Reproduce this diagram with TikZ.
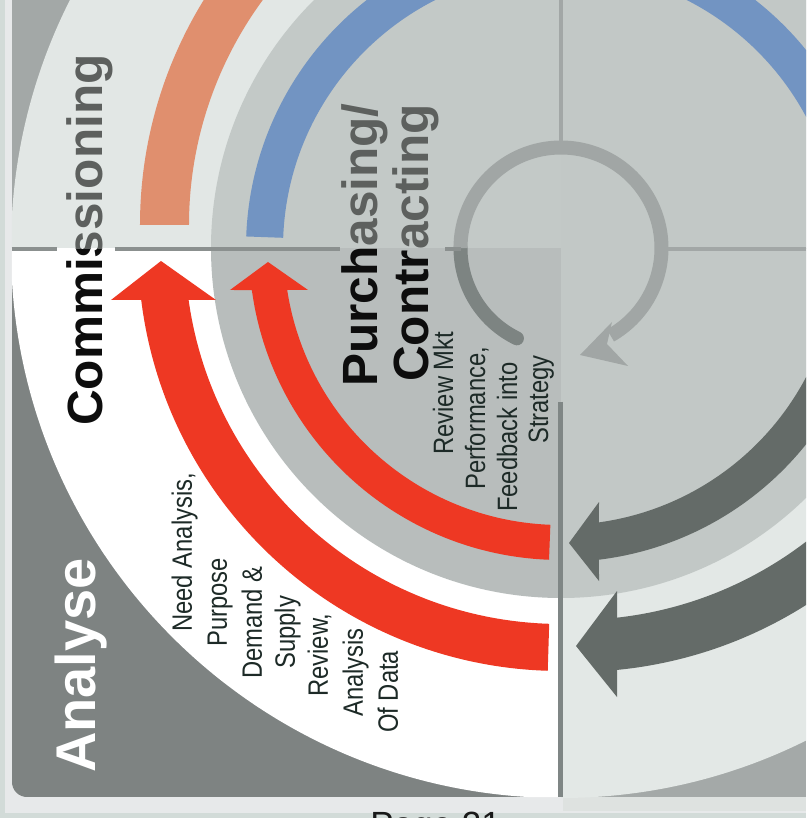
\documentclass[tikz,border=0pt]{standalone}
\usepackage{fontspec}
\setmainfont{Liberation Sans}
\newfontfamily\narrowsans[FakeStretch=0.85]{Liberation Sans}

% palette
\definecolor{pagebg}{HTML}{E7E9EA}
\definecolor{framestrip}{HTML}{D2DBD8}
\definecolor{panelrim}{HTML}{DEE2E0}
\definecolor{tlcorner}{HTML}{A3A8A7}
\definecolor{tlring}{HTML}{E2E7E5}
\definecolor{tldisc}{HTML}{C3C9C7}
\definecolor{blcorner}{HTML}{7E8382}
\definecolor{blring}{HTML}{FFFFFF}
\definecolor{bldisc}{HTML}{B8BDBC}
\definecolor{brcorner}{HTML}{A4A9A8}
\definecolor{brring}{HTML}{E3E8E6}
\definecolor{brdisc}{HTML}{C2C8C6}
\definecolor{blueband}{HTML}{7294C2}
\definecolor{orangeband}{HTML}{E08F6E}
\definecolor{redarrow}{HTML}{EE3823}
\definecolor{darkarrow}{HTML}{646B68}
\definecolor{loopgray}{HTML}{A1A6A5}
\definecolor{loopdark}{HTML}{7D8482}
\definecolor{rulegray}{HTML}{A2A7A6}
\definecolor{ruledark}{HTML}{8B908F}
\definecolor{ruledeep}{HTML}{7F8685}
\definecolor{titlegray}{HTML}{5D605E}
\definecolor{titleblack}{HTML}{0D0D0D}
\definecolor{labeltext}{HTML}{1D2A27}

\begin{document}
\begin{tikzpicture}[x=1pt,y=1pt,
  title/.style={font=\bfseries\fontsize{49.5}{50}\selectfont, rotate=90,
    anchor=base west, inner sep=0pt},
  bigtitle/.style={font=\bfseries\fontsize{56}{58}\selectfont, rotate=90,
    anchor=base west, inner sep=0pt, text=white},
  label/.style={font=\narrowsans\fontsize{28}{30}\selectfont, rotate=90,
    anchor=base west, inner sep=0pt, text=labeltext},
  pagenum/.style={font=\fontsize{35}{36}\selectfont, anchor=base west,
    inner sep=0pt, text=black!90},
  hrule/.style={line width=4.5pt},
]
% frame of the page; the cycle is centred on the origin
\useasboundingbox (-561,-570) rectangle (245,248);
\clip (-561,-570) rectangle (245,248);
\fill[pagebg] (-561,-570) rectangle (245,248);
\fill[framestrip] (-561,-570) rectangle (-556,248);
\fill[framestrip] (-561,-570) rectangle (245,-565);
\fill[panelrim] (2,-549) rectangle (245,-563);

% quadrant: top left
\begin{scope}
  \clip (-549,-1) rectangle (0,248);
  \fill[tlcorner] (-549,-1) rectangle (0,248);
  \fill[tlring] (0,0) circle[radius=550];
  \fill[tldisc] (0,0) circle[radius=350];
\end{scope}
% quadrant: top right
\begin{scope}
  \clip (0,-1) rectangle (245,248);
  \fill[brcorner] (0,-1) rectangle (245,248);
  \fill[brring] (0,0) circle[radius=550];
  \fill[brdisc] (0,0) circle[radius=350];
\end{scope}
% quadrant: bottom left (highlighted)
\begin{scope}
  \clip (-549,-549) rectangle (0,-1);
  \clip[rounded corners=15pt] (-549,-549) rectangle (100,100);
  \fill[blcorner] (-549,-549) rectangle (0,-1);
  \fill[blring] (0,0) circle[radius=550];
  \fill[bldisc] (0,0) circle[radius=350];
\end{scope}
% quadrant: bottom right
\begin{scope}
  \clip (0,-549) rectangle (245,-1);
  \fill[brcorner] (0,-549) rectangle (245,-1);
  \fill[brring] (0,0) circle[radius=550];
  \fill[brdisc] (0,0) circle[radius=350];
\end{scope}

% coloured bands of the upper half
\fill[blueband] (177.9:278) arc[start angle=177.9, end angle=10, radius=278]
  -- (10:315) arc[start angle=10, end angle=177.9, radius=315] -- cycle;
\begin{scope}[shift={(8,23)}]
  \fill[orangeband] (180:380) arc[start angle=180, end angle=110, radius=380]
    -- (110:429) arc[start angle=110, end angle=180, radius=429] -- cycle;
\end{scope}

% red arrows of the highlighted quadrant
\fill[redarrow] (-450,-52) -- (-400,-13) -- (-345,-52)
  -- (187.95:376) arc[start angle=187.95, end angle=268.2, radius=376]
  -- (268.2:423) arc[start angle=268.2, end angle=187.06, radius=423] -- cycle;
\fill[redarrow] (-331,-42) -- (-293,-14) -- (-253,-42)
  -- (188.72:277) arc[start angle=188.72, end angle=267.8, radius=277]
  -- (267.8:312) arc[start angle=267.8, end angle=187.74, radius=312] -- cycle;

% dark arrows coming in from the right
\fill[darkarrow] (38,-254) -- (8,-295) -- (38,-333)
  -- (-83.05:314) arc[start angle=-83.05, end angle=-10, radius=314]
  -- (-10:277) arc[start angle=-10, end angle=-82.12, radius=277] -- cycle;
\fill[darkarrow] (56,-343) -- (15,-398) -- (56,-449)
  -- ([shift={(14,8)}]-84.42:432) arc[start angle=-84.42, end angle=-20, radius=432]
  -- ([shift={(14,8)}]-20:380) arc[start angle=-20, end angle=-83.65, radius=380] -- cycle;

% small loop arrow in the middle
\draw[loopdark, line width=14pt, line cap=round]
  (244:100.5) arc[start angle=244, end angle=180, radius=100.5];
\draw[loopgray, line width=14pt]
  (180:100.5) arc[start angle=180, end angle=-60.5, radius=100.5];
\fill[loopgray] (19,-107) -- (51,-74) -- (46,-96) -- (67,-118) -- cycle;

% quadrant rules
\draw[ruledark, hrule] (-549,-1) -- (-504,-1);
\draw[ruledark, hrule] (-446,-1) -- (-221,-1);
\draw[ruledark, hrule] (-116,-1) -- (-100,-1);
\draw[rulegray, hrule] (107,-1) -- (245,-1);
\draw[rulegray, line width=4pt] (0,248) -- (0,107);
\draw[ruledeep, line width=5.5pt] (-0.5,-154) -- (-0.5,-549);

% stage titles, black below the rule and grey above it
\begin{scope}
  \clip (-561,-570) rectangle (245,-1);
  \node[title, text=titleblack] (comm-low) at (-458,-178) {Commissioning};
  \node[title, text=titleblack] (purch-low) at (-183,-139) {Purchasing/};
  \node[title, text=titleblack] (contr-low) at (-133,-134) {Contracting};
\end{scope}
\begin{scope}
  \clip (-561,-1) rectangle (245,248);
  \node[title, text=titlegray] (comm-up) at (-458,-178) {Commissioning};
  \node[title, text=titlegray] (purch-up) at (-183,-139) {Purchasing/};
  \node[title, text=titlegray] (contr-up) at (-133,-134) {Contracting};
\end{scope}
\node[bigtitle] (analyse) at (-465,-525) {Analyse};

% activities of the analyse stage
\node[label] (need) at (-369,-384) {Need Analysis,};
\node[label] (purpose) at (-334,-399) {Purpose};
\node[label] (demand) at (-299,-431) {Demand \&};
\node[label] (supply) at (-266,-421) {Supply};
\node[label] (review) at (-233,-449) {Review,};
\node[label] (analysis) at (-198,-469) {Analysis};
\node[label] (ofdata) at (-163,-485) {Of Data};

\node[label] (mkt) at (-108,-207) {Review Mkt};
\node[label] (perf) at (-76,-242) {Performance,};
\node[label] (feedback) at (-44,-264) {Feedback into};
\node[label] (strategy) at (-13,-196) {Strategy};

% page number, running off the foot of the page
\node[pagenum] (page) at (-190.8,-588.5) {Page 21};
\end{tikzpicture}
\end{document}
